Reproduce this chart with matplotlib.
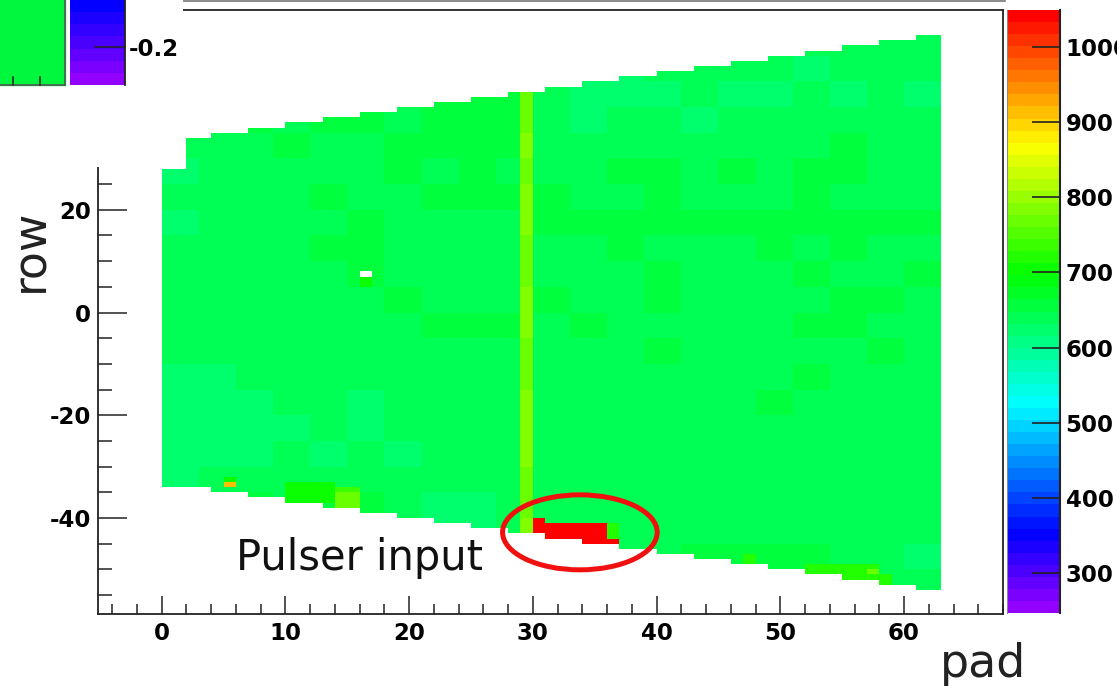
import colorsys
import numpy as np
import matplotlib
matplotlib.use('Agg')
import matplotlib.pyplot as plt
from matplotlib.colors import ListedColormap, Normalize
from matplotlib.patches import Ellipse, Rectangle
from matplotlib.ticker import MultipleLocator
from matplotlib.lines import Line2D

plt.rcParams['axes.unicode_minus'] = False

W, H = 1117, 686

# pad plane outline: upper edge / lower edge (row units) for each pad 0..62
row_top = ([28] * 2 + [34] * 2 + [35] * 3 + [36] * 3 + [37] * 3 + [38] * 3 + [39] * 3
           + [40] * 3 + [41] * 3 + [42] * 3 + [43] * 3 + [44] * 3 + [45] * 3 + [46] * 3
           + [47] * 3 + [48] * 3 + [49] * 3 + [50] * 3 + [51] * 3 + [52] * 3 + [53] * 3
           + [54] * 2)
row_bottom = ([-34] * 4 + [-35] * 3 + [-36] * 3 + [-37] * 3 + [-38] * 3 + [-39] * 3
              + [-40] * 3 + [-41] * 3 + [-42] * 3 + [-43] * 3 + [-44] * 3 + [-45] * 3
              + [-46] * 3 + [-47] * 3 + [-48] * 3 + [-49] * 3 + [-50] * 3 + [-51] * 3
              + [-52] * 3 + [-53] * 3 + [-54] * 2)

# pedestal levels, 5-row bands (top band first), one digit per group of 3 pads
level_base = 605
level_step = 8
level_bands = [
    "555555555555555544454",  # rows 50..54
    "555555555554345443454",  # 45..49
    "555555667642234334343",  # 40..44
    "556567567643443545544",  # 35..39
    "545645676654554555655",  # 30..34
    "345454657555665656655",  # 25..29
    "554565566665565556555",  # 20..24
    "345456545566776776766",  # 15..19
    "454566554555655565655",  # 10..14
    "545456555455565556556",  # 5..9
    "455545655465565555665",  # 0..4
    "445545566656555556655",  # -5..-1
    "444445555555565555565",  # -10..-6
    "334444445554555556555",  # -15..-11
    "333443444444545565555",  # -20..-16
    "333343444444445555455",  # -25..-21
    "333434344444455555444",  # -30..-26
    "344455445454444454444",  # -35..-31
    "556566433444444444444",  # -40..-36
    "555555533444444444444",  # -45..-41
    "555555555555456776543",  # -50..-46
    "555555555555555557844",  # -55..-51
]

# noisy pad 29, same 5-row bands
stripe_pad = 29
stripe_vals = [780, 780, 775, 770, 780, 775, 785, 780, 770, 775, 780,
               780, 775, 770, 780, 785, 780, 775, 770, 780, 780, 780]

# single channels / clusters: (pad_lo, pad_hi, row_lo, row_hi, value), half open
hot_cells = [
    (16, 17, 7, 8, 0),          # dead channel
    (16, 17, 5, 7, 700),
    (5, 6, -34, -33, 920),
    (5, 6, -33, -32, 700),
    (10, 14, -37, -33, 705),
    (14, 16, -38, -35, 765),
    (14, 16, -35, -34, 730),
    (47, 48, -49, -47, 720),
    (52, 58, -52, -49, 715),
    (55, 59, -53, -51, 725),
    (57, 58, -51, -50, 775),
    (36, 37, -44, -41, 725),
    # pulser
    (30, 31, -43, -40, 1100),
    (31, 34, -44, -41, 1100),
    (34, 36, -45, -41, 1100),
    (36, 37, -45, -44, 1100),
]

z_min, z_max = 247, 1049
cb_ticks = [300, 400, 500, 600, 700, 800, 900, 1000]

# ROOT "pretty" palette: 50 HLS colours, hue 280 -> 0
palette = [colorsys.hls_to_rgb((280 - (i + 1) * 280 / 50) / 360, 0.5, 1.0) for i in range(50)]
cmap = ListedColormap(palette)
cmap.set_over(palette[-1])
cmap.set_under('white')
cmap.set_bad('white')

n_pads = 63
rows = np.arange(-55, 55)
z = np.zeros((len(rows), n_pads))
for j, r in enumerate(rows):
    band = len(level_bands) - 1 - (r + 55) // 5
    for p in range(n_pads):
        z[j, p] = level_base + level_step * int(level_bands[band][p // 3])
    z[j, stripe_pad] = stripe_vals[band]
for p0, p1, r0, r1, v in hot_cells:
    z[(rows >= r0) & (rows < r1), p0:p1] = v
for p in range(n_pads):
    z[(rows < row_bottom[p]) | (rows >= row_top[p]), p] = np.nan
z = np.ma.masked_where(~np.isfinite(z) | (z < z_min), z)

fig = plt.figure(figsize=(W / 100, H / 100), dpi=100)
fig.patch.set_facecolor('white')

ax = fig.add_axes([98 / W, (H - 614) / H, (1003 - 98) / W, (614 - 10) / H])
norm = Normalize(vmin=z_min, vmax=z_max)
mesh = ax.pcolormesh(np.arange(0, n_pads + 1), np.arange(-55, 56), z,
                     cmap=cmap, norm=norm, edgecolors='none', antialiased=False)
ax.set_xlim(-5.15, 68.0)
ax.set_ylim(-58.7, 58.9)

ax.xaxis.set_major_locator(MultipleLocator(10))
ax.xaxis.set_minor_locator(MultipleLocator(2))
ax.yaxis.set_major_locator(MultipleLocator(20))
ax.yaxis.set_minor_locator(MultipleLocator(5))
ax.tick_params(axis='both', which='both', direction='in', width=1.1, color='#222222',
               labelsize=16.5, top=False, right=False)
ax.tick_params(axis='x', which='major', length=13, pad=6)
ax.tick_params(axis='x', which='minor', length=7)
ax.tick_params(axis='y', which='major', length=21, pad=5)
ax.tick_params(axis='y', which='minor', length=10)
for lab in ax.get_xticklabels() + ax.get_yticklabels():
    lab.set_fontweight('bold')
for s in ax.spines.values():
    s.set_linewidth(1.3)
    s.set_color('#222222')

ax.add_patch(Ellipse((33.8, -42.8), 12.5, 14.6, fill=False, ec='#f01010', lw=3.6, zorder=4))
ax.text(6.0, -50.1, 'Pulser input', fontsize=30, family='DejaVu Sans', color='#111111',
        va='baseline', ha='left', zorder=4)

# colour scale
cax = fig.add_axes([1007 / W, (H - 613) / H, 53 / W, 603 / H])
cb = fig.colorbar(mesh, cax=cax, ticks=cb_ticks, extend='neither')
cb.outline.set_visible(False)
cb.minorticks_off()
cax.tick_params(direction='in', length=20, width=1.2, color='#222222',
                labelsize=16.5, pad=4)
for lab in cax.get_yticklabels():
    lab.set_fontweight('bold')
cax.plot([1, 1], [0, 1], transform=cax.transAxes, color='#222222', lw=1.5, clip_on=False)
cax.plot([0, 0], [0, 1], transform=cax.transAxes, color='#888888', lw=0.8, clip_on=False)

fig.text(43 / W, 1 - 250 / H, 'row', rotation=90, rotation_mode='anchor',
         ha='center', va='baseline', fontsize=33, color='#222222')
fig.text(1026 / W, 1 - 677 / H, 'pad', ha='right', va='baseline', fontsize=33, color='#222222')

# neighbouring canvas overlapping the top left corner
ov = fig.add_axes([0, 1 - 167 / H, 183 / W, 167 / H])
ov.set_zorder(10)
ov.axis('off')
ov.add_patch(Rectangle((0, 0), 183, 167, color='white', zorder=0))
ov.add_patch(Rectangle((0, -5), 65, 90, color='#00f73e', zorder=1))
ov.plot([65, 65], [0, 85], color='#555555', lw=1.2, zorder=2)
ov.plot([0, 65], [85, 85], color='#555555', lw=1.2, zorder=2)
for tx in (13, 40):
    ov.plot([tx, tx], [77, 85], color='#222222', lw=1.1, zorder=2)
ov.imshow(np.arange(7, -1, -1).reshape(-1, 1), cmap=cmap, vmin=0, vmax=49,
          extent=(70, 125, 85, -12), aspect='auto', interpolation='nearest', zorder=1)
ov.set_xlim(0, 183)
ov.set_ylim(167, 0)
ov.plot([125, 125], [0, 85], color='#222222', lw=1.3, zorder=2)
ov.plot([95, 125], [47, 47], color='#222222', lw=1.1, zorder=2)
ov.text(129, 50, '-0.2', fontsize=16.5, fontweight='bold', va='center', ha='left')
fig.text(27 / W, 1 - 163 / H, 'd', ha='right', va='baseline', fontsize=33, color='#222222')

fig.add_artist(Line2D([183 / W, 1005 / W], [1 - 0.8 / H, 1 - 0.8 / H], color='#777777', lw=1.2))

fig.savefig('out.png', dpi=100, facecolor='white')
